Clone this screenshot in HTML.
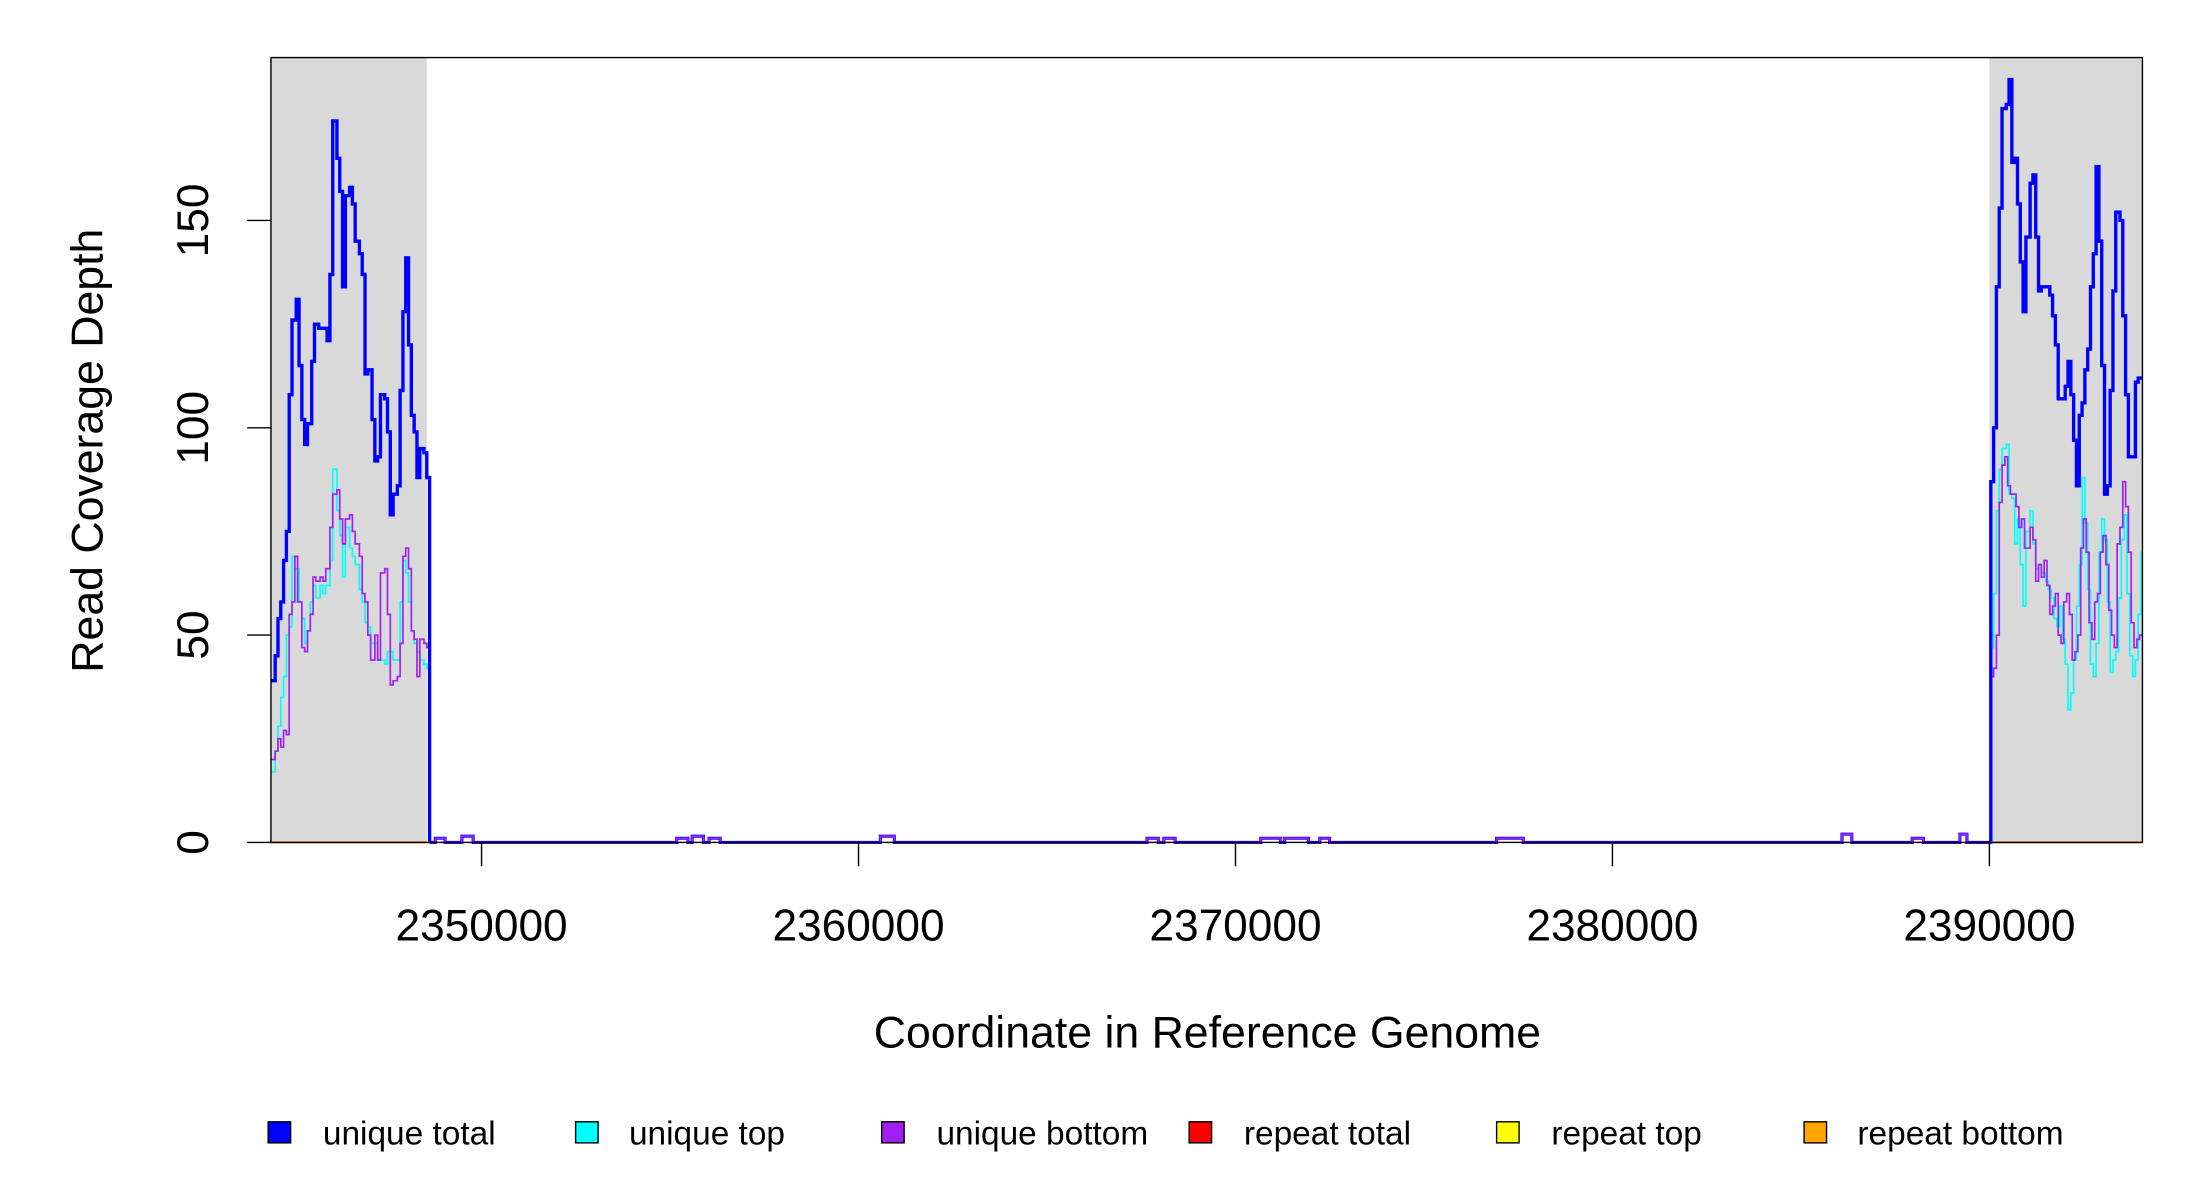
<!DOCTYPE html>
<html><head><meta charset="utf-8"><style>
html,body{margin:0;padding:0;background:#fff;}
svg{display:block;}
text{font-family:"Liberation Sans",Arial,sans-serif;fill:#000;}
</style></head><body>
<svg id="s" width="2200" height="1200" viewBox="0 0 1567 854.7" preserveAspectRatio="none" xmlns="http://www.w3.org/2000/svg">
<rect x="0" y="0" width="1567" height="854.7" fill="#fff"/>
<rect x="193" y="41" width="111" height="559" fill="#d9d9d9"/>
<rect x="1417" y="41" width="109" height="559" fill="#d9d9d9"/>
<g id="series"></g>
<line x1="193" y1="600" x2="306" y2="600" stroke="#ff8c00" stroke-width="1.5"/>
<line x1="1418" y1="600" x2="1526" y2="600" stroke="#ff8c00" stroke-width="1.5"/>
<rect x="193" y="41" width="1333" height="559" fill="none" stroke="#000" stroke-width="1"/>
<g stroke="#000" stroke-width="1">
<line x1="176" y1="600" x2="193" y2="600"/>
<line x1="176" y1="452.3" x2="193" y2="452.3"/>
<line x1="176" y1="304.7" x2="193" y2="304.7"/>
<line x1="176" y1="157" x2="193" y2="157"/>
<line x1="343" y1="600" x2="343" y2="617"/>
<line x1="611.5" y1="600" x2="611.5" y2="617"/>
<line x1="880" y1="600" x2="880" y2="617"/>
<line x1="1148.5" y1="600" x2="1148.5" y2="617"/>
<line x1="1417" y1="600" x2="1417" y2="617"/>
</g>
<g font-size="31.5" text-anchor="middle">
<text transform="translate(148,600) rotate(-90)">0</text>
<text transform="translate(148,452.3) rotate(-90)">50</text>
<text transform="translate(148,304.7) rotate(-90)">100</text>
<text transform="translate(148,157) rotate(-90)">150</text>
<text x="343" y="670">2350000</text>
<text x="611.5" y="670">2360000</text>
<text x="880" y="670">2370000</text>
<text x="1148.5" y="670">2380000</text>
<text x="1417" y="670">2390000</text>
</g>
<text x="860" y="746" font-size="31.8" text-anchor="middle">Coordinate in Reference Genome</text>
<text transform="translate(73,321) rotate(-90)" font-size="31.8" text-anchor="middle">Read Coverage Depth</text>
<g stroke="#000" stroke-width="1">
<rect x="191" y="799" width="16" height="15" fill="#0000ff"/>
<rect x="410" y="799" width="16" height="15" fill="#00ffff"/>
<rect x="628" y="799" width="16" height="15" fill="#a020f0"/>
<rect x="847" y="799" width="16" height="15" fill="#ff0000"/>
<rect x="1066" y="799" width="16" height="15" fill="#ffff00"/>
<rect x="1285" y="799" width="16" height="15" fill="#ffa500"/>
</g>
<g font-size="23.8">
<text x="230" y="815">unique total</text>
<text x="448" y="815">unique top</text>
<text x="667" y="815">unique bottom</text>
<text x="886" y="815">repeat total</text>
<text x="1105" y="815">repeat top</text>
<text x="1323" y="815">repeat bottom</text>
</g>
</svg>
<script>
var Y=function(v){return 600-v*2.953;};
function step(pts,endx){var d="M"+pts[0][0]+" "+Y(pts[0][1]);for(var i=1;i<pts.length;i++){d+=" H"+pts[i][0]+" V"+Y(pts[i][1]);}if(endx)d+=" H"+endx;return d;}
function P(a){var r=[];for(var i=0;i<a.length;i+=2)r.push([a[i],a[i+1]]);return r;}
var bL=P([193,39,196,45,198,54,200,58,202,68,204,75,206,108,208,126,211,131,213,115,215,102,217,96,219,101,222,116,224,125,227,124,230,124,233,121,235,137,237,174,240,165,242,157,244,134,246,156,249,158,251,154,253,145,256,142,258,137,260,113,262,114,265,102,267,92,269,93,271,108,274,107,276,99,278,79,280,84,283,86,285,109,287,128,289,141,291,120,293,103,295,99,297,88,299,95,302,94,304,88,306,0]);
var cL=P([193,17,196,22,198,28,200,35,202,40,204,50,206,52,208,69,210,66,213,58,215,54,217,48,219,51,221,58,223,62,225,59,228,62,230,60,232,62,235,68,237,90,240,80,242,74,244,64,246,76,249,71,251,69,253,67,256,61,258,58,260,53,262,52,264,48,267,48,269,44,271,44,274,43,276,46,278,46,280,44,283,44,285,58,287,68,289,65,291,58,293,51,295,48,297,46,299,44,302,43,304,42,306,0]);
var pL=P([193,20,196,22,198,25,200,23,202,27,204,26,206,55,208,58,210,69,212,58,215,47,217,46,219,51,221,55,223,64,225,63,228,64,230,63,232,66,235,76,237,84,240,85,242,78,244,72,246,78,249,79,251,75,253,72,256,69,258,60,260,58,262,50,264,44,267,50,269,44,271,65,274,66,276,55,278,38,280,39,283,40,285,48,287,69,289,71,291,66,293,51,295,49,297,40,299,49,302,48,304,47,306,0]);
var bR=P([1416,0,1418,87,1420,100,1422,134,1424,153,1426,177,1429,178,1431,184,1433,164,1435,165,1437,154,1439,140,1441,128,1443,146,1446,159,1448,161,1450,146,1452,133,1454,134,1457,134,1460,132,1462,127,1464,120,1466,107,1469,107,1471,110,1473,116,1475,108,1477,97,1479,86,1481,103,1483,106,1485,114,1487,119,1489,134,1491,142,1493,163,1495,145,1497,115,1499,84,1501,86,1503,109,1505,133,1507,152,1510,150,1512,127,1514,108,1516,93,1518,93,1521,111,1523,112]);
var cR=P([1416,0,1418,47,1420,60,1422,80,1424,90,1426,95,1429,96,1431,84,1433,83,1435,72,1437,78,1439,67,1441,57,1443,75,1446,80,1448,72,1450,66,1452,67,1454,65,1457,63,1459,61,1461,59,1463,54,1465,52,1467,57,1469,49,1471,43,1473,32,1475,36,1477,44,1479,57,1481,67,1483,88,1485,77,1487,61,1489,43,1491,40,1493,48,1495,70,1497,78,1499,73,1501,58,1503,41,1505,44,1507,46,1509,59,1511,73,1513,79,1515,60,1517,45,1519,40,1521,44,1523,55,1525,70]);
var pR=P([1416,0,1418,40,1420,42,1422,50,1424,82,1426,91,1428,93,1430,86,1432,84,1434,84,1436,81,1438,76,1440,78,1442,71,1444,71,1446,76,1448,73,1450,63,1452,67,1454,64,1456,68,1458,62,1460,55,1462,57,1464,60,1466,50,1468,48,1470,58,1472,60,1474,55,1476,44,1478,46,1480,50,1482,71,1484,78,1486,70,1488,53,1490,49,1492,58,1494,60,1496,70,1498,74,1500,67,1502,56,1504,50,1506,47,1508,72,1510,76,1512,87,1514,81,1516,70,1518,53,1520,47,1522,49,1524,50]);
var bumps=[[310,317,1],[329,337,1.5],[482,490,1],[493,501,1.5],[505,513,1],[627,637,1.5],[817,825,1],[829,837,1],[898,912,1],[915,932,1],[940,947,1],[1066,1085,1],[1312,1319,2],[1362,1370,1],[1396,1401,2]];
var mid="M306 600";bumps.forEach(function(b){mid+=" H"+b[0]+" V"+Y(b[2])+" H"+b[1]+" V600";});mid+=" H1416";
var g=document.getElementById("series"),ns="http://www.w3.org/2000/svg";
function add(d,c,w){var p=document.createElementNS(ns,"path");p.setAttribute("d",d);p.setAttribute("fill","none");p.setAttribute("stroke",c);p.setAttribute("stroke-width",w);g.appendChild(p);}
add(mid,"#00ffff",1.5);add(mid,"#0000ff",2.2);add(mid,"#a020f0",1.3);
add(step(cL),"#00ffff",1.2);add(step(pL),"#a020f0",1.2);add(step(bL),"#0000ff",2.4);
add(step(cR,1526),"#00ffff",1.2);add(step(pR,1526),"#a020f0",1.2);add(step(bR,1526),"#0000ff",2.4);
</script>
</body></html>
